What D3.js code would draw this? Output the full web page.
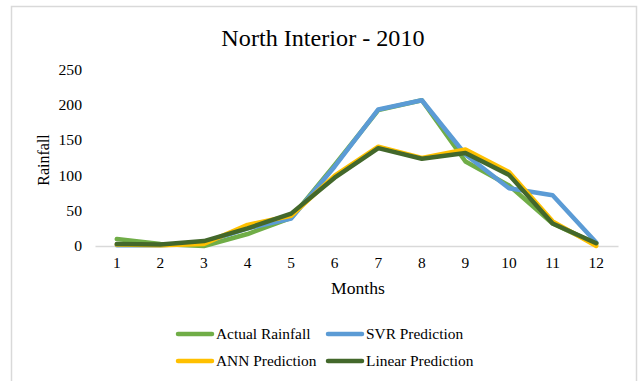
<!DOCTYPE html>
<html><head><meta charset="utf-8">
<script src="https://cdn.jsdelivr.net/npm/d3@7"></script>
<style>body{margin:0;background:#fff;}svg{display:block;}</style>
</head><body>
<script>
const months = ["1","2","3","4","5","6","7","8","9","10","11","12"];
const actual = [10, 3, 0, 17, 40, 115, 193, 207, 120, 86, 32, 3];
const svr    = [1, 1, 5, 25, 39, 113, 194, 207, 130, 82, 72, 5];
const ann    = [2, 1, 3, 30, 43, 100, 141, 125, 137, 105, 35, 0];
const linear = [3, 2, 7, 25, 46, 97, 139, 124, 132, 101, 32, 4];
const yTicks = [0, 50, 100, 150, 200, 250];
const seriesNames = ["Actual Rainfall", "SVR Prediction", "ANN Prediction", "Linear Prediction"];
const seriesColors = ["#70AD47", "#5B9BD5", "#FFC000", "#43682B"];
const seriesData = [actual, svr, ann, linear];

const W = 638, H = 381;
const svg = d3.select("body").append("svg").attr("width", W).attr("height", H);
const font = "'Liberation Serif','Times New Roman',serif";

function stretch(sel, k) {
  sel.each(function () {
    const w = this.getComputedTextLength();
    d3.select(this).attr("textLength", w * k).attr("lengthAdjust", "spacingAndGlyphs");
  });
}

svg.append("rect").attr("x", 11.5).attr("y", 6.5).attr("width", 625).attr("height", 390)
  .attr("fill", "#fff").attr("stroke", "#d9d9d9").attr("stroke-width", 1.5);

const x = d3.scaleBand().domain(months).range([95, 618]);
const y = d3.scaleLinear().domain([0, 250]).range([246, 70]);

const title = svg.append("text").attr("x", 323).attr("y", 46).attr("text-anchor", "middle")
  .attr("font-family", font).attr("font-size", 23).attr("fill", "#000").text("North Interior - 2010");
stretch(title, 1.05);

// x axis
const xAxis = svg.append("g").attr("transform", "translate(0,246)")
  .call(d3.axisBottom(x).tickSize(0).tickPadding(12));
xAxis.select(".domain").attr("stroke", "#d9d9d9").attr("stroke-width", 1.5);
xAxis.selectAll("text").attr("font-family", font).attr("font-size", 14).attr("fill", "#000");
stretch(xAxis.selectAll("text"), 1.1);

// y axis
const yAxis = svg.append("g").attr("transform", "translate(95,0)")
  .call(d3.axisLeft(y).tickValues(yTicks).tickSize(0).tickPadding(13));
yAxis.select(".domain").remove();
yAxis.selectAll("text").attr("font-family", font).attr("font-size", 14).attr("fill", "#000");
stretch(yAxis.selectAll("text"), 1.12);

const yl = svg.append("text").attr("transform", "translate(49,160) rotate(-90)").attr("text-anchor", "middle")
  .attr("font-family", font).attr("font-size", 16).attr("fill", "#000").text("Rainfall");
const xl = svg.append("text").attr("x", 358).attr("y", 294).attr("text-anchor", "middle")
  .attr("font-family", font).attr("font-size", 16).attr("fill", "#000").text("Months");
stretch(xl, 1.1);

const line = d3.line().x((d, i) => x(months[i]) + x.bandwidth() / 2).y(d => y(d));
seriesData.forEach((s, k) => {
  svg.append("path").datum(s).attr("d", line).attr("fill", "none")
    .attr("stroke", seriesColors[k]).attr("stroke-width", 4.5)
    .attr("stroke-linejoin", "round").attr("stroke-linecap", "round");
});

// legend
const legPos = [[178, 334], [328, 334], [178, 361], [328, 361]];
seriesNames.forEach((n, k) => {
  const [lx, ly] = legPos[k];
  svg.append("line").attr("x1", lx).attr("x2", lx + 34).attr("y1", ly).attr("y2", ly)
    .attr("stroke", seriesColors[k]).attr("stroke-width", 4.5).attr("stroke-linecap", "round");
  const t = svg.append("text").attr("x", lx + 38).attr("y", ly + 5).attr("font-family", font)
    .attr("font-size", 14).attr("fill", "#000").text(n);
  stretch(t, 1.1);
});
</script>
</body></html>
